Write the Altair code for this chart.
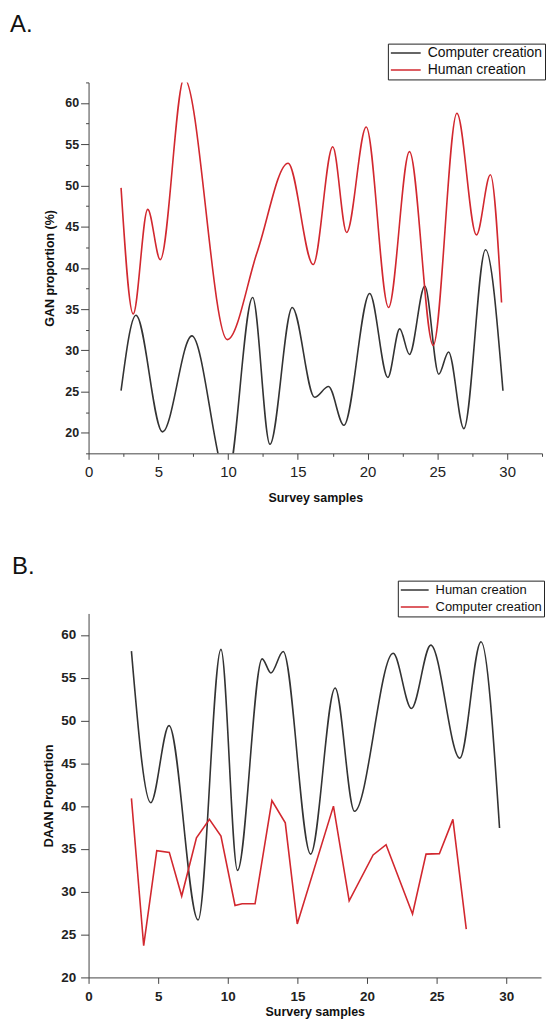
import altair as alt
import pandas as pd

# ---------------- Panel A data ----------------
a_comp_x = [2.33, 3.4, 5.3, 7.4, 9.95, 11.76, 13.0, 14.6, 16.2, 17.2, 18.3, 20.15,
            21.45, 22.3, 23.0, 24.1, 25.1, 25.8, 26.9, 28.45, 29.7]
a_comp_y = [25.1, 34.25, 20.1, 31.75, 14.5, 36.4, 18.6, 35.2, 24.3, 25.6, 20.9, 36.9,
            26.7, 32.6, 29.5, 37.8, 27.1, 29.8, 20.5, 42.2, 25.1]
a_hum_x = [2.33, 3.2, 4.24, 5.14, 6.85, 9.95, 12.1, 14.3, 16.1, 17.5, 18.5, 19.9,
           21.5, 23.0, 24.7, 26.4, 27.8, 28.8, 29.6]
a_hum_y = [49.7, 34.4, 47.1, 41.0, 63.0, 31.3, 42.0, 52.7, 40.4, 54.7, 44.3, 57.1,
           35.2, 54.1, 30.6, 58.75, 44.0, 51.3, 35.8]

# ---------------- Panel B data ----------------
b_hum_x = [3.08, 4.47, 5.78, 7.87, 9.51, 10.7, 12.47, 13.1, 13.98, 15.95, 17.71, 19.1,
           21.88, 23.19, 24.58, 26.67, 28.19, 29.52]
b_hum_y = [58.1, 40.4, 49.4, 26.7, 58.3, 32.5, 57.2, 55.55, 58.05, 34.4, 53.8, 39.4,
           57.85, 51.4, 58.8, 45.6, 59.2, 37.45]
b_comp_x = [3.08, 3.96, 4.9, 5.8, 6.69, 7.75, 8.68, 9.51, 10.52, 11.03, 11.96, 13.17,
            14.13, 14.99, 17.59, 18.72, 20.44, 21.37, 23.27, 24.24, 25.2, 26.17, 27.13]
b_comp_y = [40.9, 23.7, 34.8, 34.6, 29.5, 36.3, 38.45, 36.5, 28.4, 28.6, 28.6, 40.65,
            38.05, 26.25, 40.0, 28.95, 34.3, 35.5, 27.4, 34.4, 34.45, 38.45, 25.65]

series_comp = "Computer creation"
series_hum = "Human creation"

x_ticks = [0, 2.5, 5, 7.5, 10, 12.5, 15, 17.5, 20, 22.5, 25, 27.5, 30, 32.5]
a_y_ticks = [17.5, 20, 22.5, 25, 27.5, 30, 32.5, 35, 37.5, 40, 42.5, 45, 47.5, 50,
             52.5, 55, 57.5, 60, 62.5]
b_y_ticks = [20, 22.5, 25, 27.5, 30, 32.5, 35, 37.5, 40, 42.5, 45, 47.5, 50,
             52.5, 55, 57.5, 60, 62.5]

BLACK = "#333333"
RED = "#d2282f"
FONT = "Liberation Sans"

dfa = pd.concat([
    pd.DataFrame({"x": a_comp_x, "y": a_comp_y, "s": series_comp}),
    pd.DataFrame({"x": a_hum_x, "y": a_hum_y, "s": series_hum}),
])
dfb_h = pd.DataFrame({"x": b_hum_x, "y": b_hum_y, "s": series_hum})
dfb_c = pd.DataFrame({"x": b_comp_x, "y": b_comp_y, "s": series_comp})

major = "datum.value % 5 === 0"
lab_expr = "datum.value % 5 === 0 ? datum.label : ''"


def tsize(big, small):
    return {"condition": {"test": major, "value": big}, "value": small}


def x_axis(title, lab_size, lab_weight, lab_pad, title_pad):
    return alt.Axis(values=x_ticks, labelExpr=lab_expr, tickSize=tsize(6, 3), grid=False,
                    title=title, labelFont=FONT, labelFontSize=lab_size,
                    labelFontWeight=lab_weight, labelColor="#222", labelPadding=lab_pad,
                    titleFont=FONT, titleFontSize=12.5, titleFontWeight="bold",
                    titleColor="#111", titlePadding=title_pad, domainColor="#444",
                    tickColor="#444", labelFlush=False, labelOverlap=False)


def y_axis(title, vals, lab_size, lab_pad, title_pad):
    return alt.Axis(values=vals, labelExpr=lab_expr, tickSize=tsize(8, 3), grid=False,
                    title=title, labelFont=FONT, labelFontSize=lab_size,
                    labelFontWeight="bold", labelColor="#222", labelPadding=lab_pad,
                    titleFont=FONT, titleFontSize=12.5, titleFontWeight="bold",
                    titleColor="#111", titlePadding=title_pad, domainColor="#444",
                    tickColor="#444", labelFlush=False, labelOverlap=False)


def legend(lx, ly, fsize, slen):
    return alt.Legend(orient="none", legendX=lx, legendY=ly, title=None,
                      symbolType="stroke", symbolSize=slen * slen, symbolStrokeWidth=1.6,
                      clipHeight=15, labelFont=FONT, labelFontSize=fsize,
                      labelColor="#111", strokeColor="#222", padding=2,
                      rowPadding=2, labelOffset=6, fillColor="white")


# ---------------- Panel A ----------------
chart_a = alt.Chart(dfa).mark_line(interpolate="monotone", strokeWidth=1.6, clip=True).encode(
    x=alt.X("x:Q", scale=alt.Scale(domain=[0, 32.5], nice=False, zero=False),
            axis=x_axis("Survey samples", 15, "normal", 5, 12)),
    y=alt.Y("y:Q", scale=alt.Scale(domain=[17.5, 62.5], nice=False, zero=False),
            axis=y_axis("GAN proportion (%)", a_y_ticks, 12.5, 2, 8)),
    color=alt.Color("s:N", scale=alt.Scale(domain=[series_comp, series_hum], range=[BLACK, RED]),
                    legend=legend(301, -39, 14, 30)),
).properties(
    width=456, height=373,
    title=alt.Title("A.", anchor="start", frame="group", dx=-79, fontSize=24, font=FONT,
                    fontWeight="normal", color="#111", offset=6),
)

# ---------------- Panel B ----------------
b_scale_x = alt.Scale(domain=[0, 32.5], nice=False, zero=False)
b_scale_y = alt.Scale(domain=[20, 62.5], nice=False, zero=False)
b_color = alt.Color("s:N", scale=alt.Scale(domain=[series_hum, series_comp], range=[BLACK, RED]),
                    legend=legend(311, -33, 13, 28))

b_h = alt.Chart(dfb_h).mark_line(interpolate="monotone", strokeWidth=1.6, clip=True).encode(
    x=alt.X("x:Q", scale=b_scale_x, axis=x_axis("Survery samples", 13.5, "bold", 6, 3)),
    y=alt.Y("y:Q", scale=b_scale_y, axis=y_axis("DAAN  Proportion", b_y_ticks, 13.5, 5, 5)),
    color=b_color,
)
b_c = alt.Chart(dfb_c).mark_line(interpolate="linear", strokeWidth=1.6, clip=True).encode(
    x=alt.X("x:Q", scale=b_scale_x),
    y=alt.Y("y:Q", scale=b_scale_y),
    color=b_color,
)
chart_b = alt.layer(b_h, b_c).properties(
    width=455, height=366,
    title=alt.Title("B.", anchor="start", frame="group", dx=-77, fontSize=24, font=FONT,
                    fontWeight="normal", color="#111", offset=1),
)

chart = alt.concat(chart_a, chart_b, columns=1, align="none", spacing=51).resolve_scale(
    color="independent", x="independent", y="independent"
).resolve_legend(color="independent").configure_view(stroke=None).properties(
    padding={"left": 2, "top": 2, "right": 0, "bottom": 0}
)

chart.save("out.html", embed_options={"renderer": "svg", "actions": False})
